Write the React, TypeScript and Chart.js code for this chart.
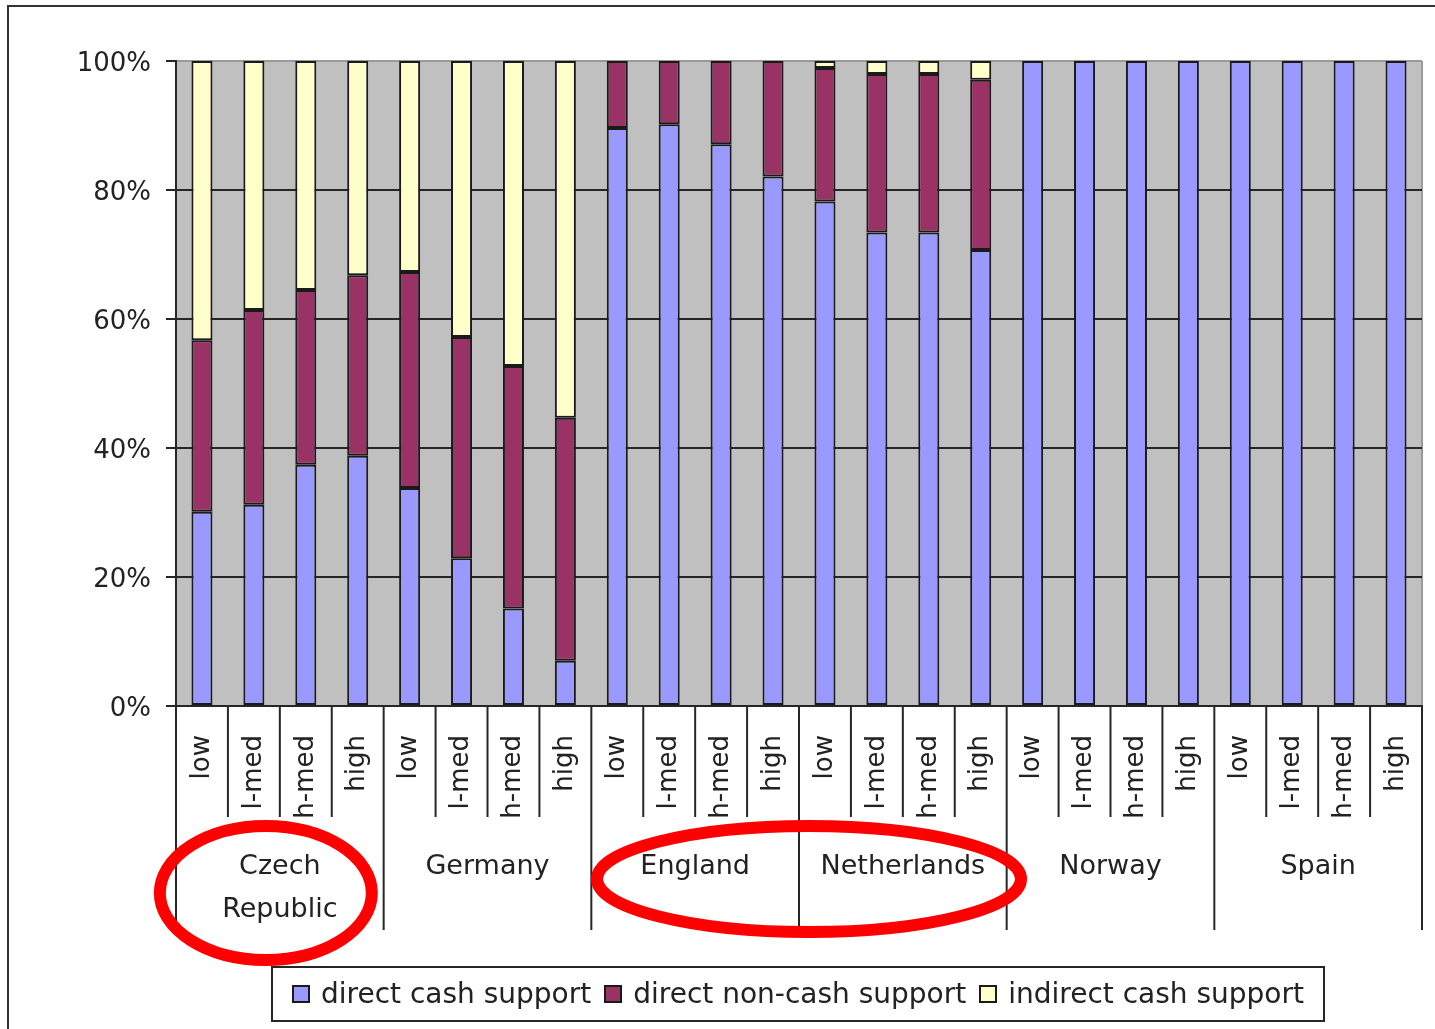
import React, { useEffect, useRef } from 'react';
import { Chart, registerables } from 'chart.js';

Chart.register(...registerables);

// ---- data ----
const countries = ['Czech Republic', 'Germany', 'England', 'Netherlands', 'Norway', 'Spain'];
const incomeLevels = ['low', 'l-med', 'h-med', 'high'];
const seriesNames = ['direct cash support', 'direct non-cash support', 'indirect cash support'];
const directCash = [30.1, 31.2, 37.4, 38.8, 33.8, 22.9, 15.1, 7.0, 89.6, 90.2, 87.1, 82.1, 78.2, 73.4, 73.4, 70.7, 100, 100, 100, 100, 100, 100, 100, 100];
const directNonCash = [26.6, 30.2, 27.1, 28.0, 33.5, 34.3, 37.6, 37.7, 10.4, 9.8, 12.9, 17.9, 20.7, 24.6, 24.6, 26.4, 0, 0, 0, 0, 0, 0, 0, 0];
const indirectCash = [43.3, 38.6, 35.5, 33.2, 32.7, 42.8, 47.3, 55.3, 0, 0, 0, 0, 1.1, 2.0, 2.0, 2.9, 0, 0, 0, 0, 0, 0, 0, 0];
const yTicks = [0, 20, 40, 60, 80, 100];
const highlightedGroups = [['Czech Republic'], ['England', 'Netherlands']];

// ---- styles ----
const seriesColors = ['#9999FF', '#993366', '#FFFFCC'];
const FONT = '"DejaVu Sans", sans-serif';
const TEXT = '#222222';
const LINE = '#262626';
const highlightStyles = [
  { dx: -14, dy: 187, rx: 106, ry: 67 },
  { dx: 10, dy: 173, rx: 212, ry: 53 },
];

const labels = countries.flatMap(() => incomeLevels);

function wrapText(ctx: CanvasRenderingContext2D, text: string, maxW: number): string[] {
  if (ctx.measureText(text).width <= maxW) return [text];
  const words = text.split(' ');
  const lines: string[] = [];
  let cur = '';
  for (const w of words) {
    const test = cur ? cur + ' ' + w : w;
    if (cur && ctx.measureText(test).width > maxW) {
      lines.push(cur);
      cur = w;
    } else cur = test;
  }
  if (cur) lines.push(cur);
  return lines;
}

const tablePlugin = {
  id: 'groupTable',
  beforeDraw(chart: any) {
    const { ctx, chartArea } = chart;
    ctx.save();
    ctx.fillStyle = '#C0C0C0';
    ctx.fillRect(chartArea.left, chartArea.top, chartArea.right - chartArea.left, chartArea.bottom - chartArea.top);
    ctx.strokeStyle = '#9a9a9a';
    ctx.lineWidth = 2;
    ctx.beginPath();
    ctx.moveTo(chartArea.right, chartArea.top);
    ctx.lineTo(chartArea.right, chartArea.bottom);
    ctx.stroke();
    ctx.restore();
  },
  afterDraw(chart: any) {
    const ctx: CanvasRenderingContext2D = chart.ctx;
    const xs = chart.scales.x;
    const top = xs.top;
    const n = labels.length;
    const per = incomeLevels.length;
    const step = xs.getPixelForValue(1) - xs.getPixelForValue(0);
    ctx.save();
    ctx.strokeStyle = LINE;
    ctx.lineWidth = 2;
    for (let i = 0; i <= n; i++) {
      const x = i < n ? xs.getPixelForValue(i) - step / 2 : xs.getPixelForValue(n - 1) + step / 2;
      const len = i % per === 0 ? 224 : 111;
      ctx.beginPath();
      ctx.moveTo(x, top);
      ctx.lineTo(x, top + len);
      ctx.stroke();
    }
    ctx.font = '27px ' + FONT;
    ctx.fillStyle = TEXT;
    ctx.textAlign = 'center';
    ctx.textBaseline = 'middle';
    const groupBounds = countries.map((c, g) => {
      const x0 = xs.getPixelForValue(g * per) - step / 2;
      const x1 = xs.getPixelForValue(g * per + per - 1) + step / 2;
      return { c, x0, x1 };
    });
    groupBounds.forEach(({ c, x0, x1 }) => {
      const lines = wrapText(ctx, c, x1 - x0 - 24);
      lines.forEach((ln, k) => ctx.fillText(ln, (x0 + x1) / 2, top + 161 + k * 43));
    });
    // red highlight ellipses
    ctx.strokeStyle = '#FF0000';
    ctx.lineWidth = 12;
    highlightedGroups.forEach((grp, h) => {
      const bs = groupBounds.filter((b) => grp.includes(b.c));
      const x0 = Math.min(...bs.map((b) => b.x0));
      const x1 = Math.max(...bs.map((b) => b.x1));
      const st = highlightStyles[h];
      ctx.beginPath();
      ctx.ellipse((x0 + x1) / 2 + st.dx, top + st.dy, st.rx, st.ry, 0, 0, Math.PI * 2);
      ctx.stroke();
    });
    ctx.restore();
  },
};

export default function App() {
  const ref = useRef<HTMLCanvasElement | null>(null);
  useEffect(() => {
    if (!ref.current) return;
    const data = [directCash, directNonCash, indirectCash];
    const chart = new Chart(ref.current, {
      type: 'bar',
      data: {
        labels,
        datasets: seriesNames.map((name, i) => ({
          label: name,
          data: data[i],
          backgroundColor: seriesColors[i],
          borderColor: '#1a1a1a',
          borderWidth: 2,
          borderSkipped: false,
          barPercentage: 0.405,
          categoryPercentage: 1,
        })),
      },
      options: {
        animation: false,
        responsive: false,
        layout: { padding: { left: 0, top: 61, right: 13, bottom: 0 } },
        plugins: { legend: { display: false }, tooltip: { enabled: false } },
        scales: {
          x: {
            stacked: true,
            grid: { display: false, drawTicks: false },
            border: { display: true, color: LINE, width: 2 },
            ticks: {
              autoSkip: false,
              minRotation: 90,
              maxRotation: 90,
              padding: 29,
              color: TEXT,
              font: { family: FONT, size: 26 },
            },
            afterFit: (s: any) => {
              s.height = 1029 - 706;
              s.paddingLeft = 0;
              s.paddingRight = 0;
            },
          },
          y: {
            stacked: true,
            min: 0,
            max: 100,
            afterBuildTicks: (s: any) => { s.ticks = yTicks.map((v) => ({ value: v })); },
            ticks: {
              padding: 15,
              labelOffset: 3,
              color: TEXT,
              font: { family: FONT, size: 26 },
              callback: (v: any) => v + '%',
            },
            grid: {
              color: (c: any) => (c.tick && c.tick.value === 100 ? '#9a9a9a' : LINE),
              lineWidth: 2,
              tickLength: 10,
              tickColor: LINE,
              drawTicks: true,
            },
            border: { display: true, color: LINE, width: 2 },
            afterFit: (s: any) => {
              s.width = 176;
              s.paddingTop = 0;
              s.paddingBottom = 0;
            },
          },
        },
      },
      plugins: [tablePlugin],
    });
    return () => chart.destroy();
  }, []);

  const legendItems = seriesNames.map((name, i) => (
    <div key={name} style={{ display: 'flex', alignItems: 'center', marginLeft: i === 0 ? 0 : 13 }}>
      <div style={{ width: 18, height: 18, boxSizing: 'border-box', border: '2px solid #1a1a1a', background: seriesColors[i], marginRight: 11 }} />
      <span style={{ fontFamily: FONT, fontSize: 28, color: TEXT, whiteSpace: 'nowrap', lineHeight: '32px' }}>{name}</span>
    </div>
  ));

  return (
    <div style={{ position: 'absolute', left: 0, top: 0, width: 1435, height: 1029, overflow: 'hidden', background: '#fff' }}>
      <div style={{ position: 'absolute', left: 7, top: 5, width: 1500, height: 1100, borderLeft: '2px solid #333', borderTop: '2px solid #333' }} />
      <canvas ref={ref} width={1435} height={1029} style={{ position: 'absolute', left: 0, top: 0, width: 1435, height: 1029 }} />
      <div style={{ position: 'absolute', left: 271, top: 966, width: 1054, height: 56, boxSizing: 'border-box', border: '2px solid #262626', display: 'flex', alignItems: 'center', justifyContent: 'center' }}>
        {legendItems}
      </div>
    </div>
  );
}
